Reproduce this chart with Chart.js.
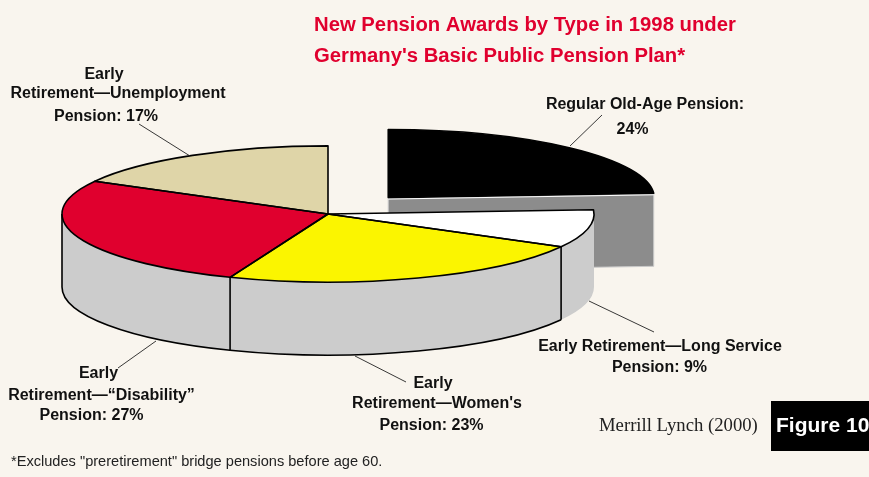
<!DOCTYPE html>
<html>
<head>
<meta charset="utf-8">
<style>
html,body{margin:0;padding:0;background:#f9f5ee;overflow:hidden}
canvas{display:block}
</style>
<script src="https://cdn.jsdelivr.net/npm/chart.js@4"></script>
</head>
<body>
<canvas id="c" width="869" height="477"></canvas>
<script>
const categories = ["Regular Old-Age Pension","Early Retirement—Long Service Pension","Early Retirement—Women's Pension","Early Retirement—\u201CDisability\u201D Pension","Early Retirement—Unemployment Pension"];
const shares = [24, 9, 23, 27, 17];
const sliceColors = ["#000000","#ffffff","#fbf500","#e0002e","#dfd5a8"];
const titleLines = ["New Pension Awards by Type in 1998 under","Germany's Basic Public Pension Plan*"];
const footnote = "*Excludes \"preretirement\" bridge pensions before age 60.";
const sourceText = "Merrill Lynch (2000)";
const figureText = "Figure 10";

// label text and placement: [text, centre x, baseline y]
const labelLines = [
  ["Early",104,78],["Retirement—Unemployment",118,97],["Pension: 17%",106,120],
  ["Regular Old-Age Pension:",645,108],["24%",632.5,133],
  ["Early Retirement—Long Service",660,350],["Pension: 9%",659.5,371],
  ["Early",433,387],["Retirement—Women's",437,407],["Pension: 23%",431.5,429],
  ["Early",98.5,377],["Retirement—\u201CDisability\u201D",101.5,399],["Pension: 27%",91.5,419]
];
const leaders = [[139,124,190,156],[602,115,570,146],[118,368,156,341],[355,356,406,382],[589,301,654,332]];

const SQUASH = 0.256, DEPTH = 73;

function shift(a){ // same displacement ArcElement.draw applies for its offset option
  const o=(a.options.offset||0)/4, h=(a.startAngle+a.endAngle)/2;
  return {x:Math.cos(h)*o,y:Math.sin(h)*o*SQUASH};
}
function geom(a,cy0){
  const s=shift(a);
  return {cx:a.x+s.x,cy:cy0+s.y,rx:a.outerRadius,ry:a.outerRadius*SQUASH};
}
const pie3d = {
  id:'pie3d',
  beforeDatasetsDraw(chart){
    const ctx=chart.ctx, arcs=chart.getDatasetMeta(0).data;
    const cy0=arcs[0].y;
    const b=geom(arcs[0],cy0);
    const ex=b.cx+b.rx*Math.cos(arcs[0].endAngle), ey=b.cy+b.ry*Math.sin(arcs[0].endAngle);
    ctx.save();
    ctx.beginPath();
    ctx.moveTo(b.cx,b.cy);ctx.lineTo(ex,ey);ctx.lineTo(ex,ey+DEPTH);ctx.lineTo(b.cx,b.cy+DEPTH);ctx.closePath();
    ctx.fillStyle='#8c8c8c';ctx.fill();
    ctx.strokeStyle='#c9c9c9';ctx.lineWidth=1;ctx.stroke();
    for(let i=1;i<arcs.length;i++){
      const a=arcs[i], g=geom(a,cy0);
      const t0=Math.max(a.startAngle,0), t1=Math.min(a.endAngle,Math.PI);
      if(t1<=t0) continue;
      ctx.beginPath();
      ctx.ellipse(g.cx,g.cy,g.rx,g.ry,0,t0,t1);
      ctx.ellipse(g.cx,g.cy+DEPTH,g.rx,g.ry,0,t1,t0,true);
      ctx.closePath();
      ctx.fillStyle='#cccccc';ctx.fill();
      if(i>1){
        ctx.strokeStyle='#000';ctx.lineWidth=1.6;
        ctx.beginPath();
        ctx.ellipse(g.cx,g.cy+DEPTH,g.rx,g.ry,0,t0,t1);
        ctx.stroke();
        ctx.beginPath();
        ctx.moveTo(g.cx+g.rx*Math.cos(t0),g.cy+g.ry*Math.sin(t0));
        ctx.lineTo(g.cx+g.rx*Math.cos(t0),g.cy+DEPTH+g.ry*Math.sin(t0));
        ctx.stroke();
        if(t1===Math.PI){
          ctx.beginPath();ctx.moveTo(g.cx-g.rx,g.cy);ctx.lineTo(g.cx-g.rx,g.cy+DEPTH);ctx.stroke();
        }
      }
    }
    ctx.restore();
    ctx.save();
    ctx.translate(0,cy0);ctx.scale(1,SQUASH);ctx.translate(0,-cy0);
  },
  afterDatasetsDraw(chart){
    const ctx=chart.ctx, arcs=chart.getDatasetMeta(0).data;
    ctx.restore();
    const cy0=arcs[0].y;
    ctx.save();
    ctx.lineJoin='round';
    arcs.forEach((a)=>{
      const g=geom(a,cy0);
      ctx.beginPath();
      ctx.moveTo(g.cx,g.cy);
      ctx.ellipse(g.cx,g.cy,g.rx,g.ry,0,a.startAngle,a.endAngle);
      ctx.closePath();
      ctx.strokeStyle='#000';ctx.lineWidth=1.6;ctx.stroke();
    });
    const b=geom(arcs[0],cy0);
    const ex=b.cx+b.rx*Math.cos(arcs[0].endAngle), ey=b.cy+b.ry*Math.sin(arcs[0].endAngle);
    ctx.beginPath();ctx.moveTo(b.cx,b.cy+1.5);ctx.lineTo(ex,ey+1.5);
    ctx.strokeStyle='#ffffff';ctx.lineWidth=1;ctx.stroke();
    ctx.strokeStyle='#222';ctx.lineWidth=0.9;
    leaders.forEach(l=>{ctx.beginPath();ctx.moveTo(l[0],l[1]);ctx.lineTo(l[2],l[3]);ctx.stroke();});
    ctx.textBaseline='alphabetic';
    ctx.fillStyle='#e0002e';ctx.textAlign='left';ctx.font='bold 20.3px "Liberation Sans"';
    ctx.fillText(titleLines[0],314,31);
    ctx.fillText(titleLines[1],314,62);
    ctx.fillStyle='#111';ctx.textAlign='center';ctx.font='bold 16px "Liberation Sans"';
    labelLines.forEach(l=>ctx.fillText(l[0],l[1],l[2]+0.5));
    ctx.textAlign='left';ctx.font='14.6px "Liberation Sans"';ctx.fillStyle='#222';
    ctx.fillText(footnote,11,466);
    ctx.font='18.7px "Liberation Serif"';ctx.fillStyle='#222';
    ctx.fillText(sourceText,599,431);
    ctx.fillStyle='#000';ctx.fillRect(771,401,98,50);
    ctx.fillStyle='#fff';ctx.font='bold 21px "Liberation Sans"';
    ctx.fillText(figureText,776,432);
    ctx.restore();
  }
};

new Chart(document.getElementById('c'),{
  type:'pie',
  data:{labels:categories,datasets:[{
    data:shares,
    backgroundColor:sliceColors,
    borderWidth:0,
    offset:[352,0,0,0,0],
    hoverOffset:0,
    radius:266
  }]},
  options:{
    responsive:false,
    animation:false,
    events:[],
    rotation:0,
    layout:{padding:{left:0,right:213,top:0,bottom:49}},
    plugins:{legend:{display:false},tooltip:{enabled:false},title:{display:false}}
  },
  plugins:[{id:'bg',beforeDraw(ch){const c=ch.ctx;c.save();c.fillStyle='#f9f5ee';c.fillRect(0,0,ch.width,ch.height);c.restore();}},pie3d]
});
</script>
</body>
</html>
